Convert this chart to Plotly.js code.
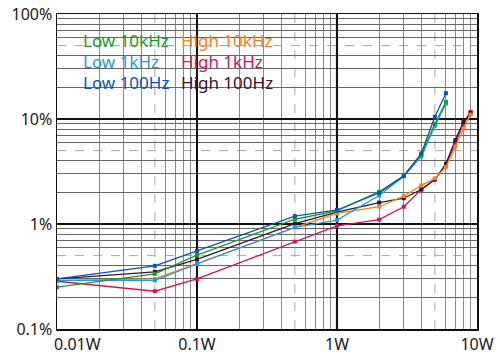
<!DOCTYPE html>
<html>
<head>
<meta charset="utf-8">
<script src="https://cdn.plot.ly/plotly-3.0.1.min.js"></script>
<style>html,body{margin:0;padding:0;background:#fff;}#chart{width:500px;height:357px;}</style>
</head>
<body>
<div id="chart"></div>
<script>
// Output power (W)
const wattsLow  = [0.01, 0.05, 0.1, 0.5, 1, 2, 3, 4, 5, 6];
const wattsHigh = [0.01, 0.05, 0.1, 0.5, 1, 2, 3, 4, 5, 6, 7, 8, 9];
// THD+N (%)
const low10k  = [0.25, 0.335, 0.505, 1.11, 1.33, 2.03, 2.87, 4.55, 9.0, 14.6];
const low1k   = [0.29, 0.29, 0.416, 0.93, 1.09, 1.87, 2.85, 4.4, 8.6, 14.0];
const low100  = [0.30, 0.40, 0.555, 1.19, 1.36, 1.98, 2.87, 4.7, 10.5, 17.6];
const high10k = [0.29, 0.30, 0.42, 0.93, 1.26, 1.46, 1.84, 2.33, 2.72, 3.5, 5.45, 8.1, 11.0];
const high1k  = [0.285, 0.229, 0.30, 0.68, 0.96, 1.10, 1.46, 2.13, 2.65, 3.6, 6.0, 9.0, 11.7];
const high100 = [0.30, 0.35, 0.46, 1.01, 1.30, 1.60, 1.76, 2.13, 2.65, 3.75, 6.3, 9.4, 11.4];

const seriesNames = ["Low 10kHz", "Low 1kHz", "Low 100Hz", "High 10kHz", "High 1kHz", "High 100Hz"];
const xTickVals = [0.01, 0.1, 1, 10];
const xTickText = ["0.01W", "0.1W", "1W", "10W"];
const yTickVals = [0.1, 1, 10, 100];
const yTickText = ["0.1%", "1%", "10%", "100%"];

const colors = ["#1e9a2c", "#1e9be0", "#0a56b2", "#f5821f", "#d3145a", "#3a1236"];

function tr(x, y, i) {
  return {x: x, y: y, name: seriesNames[i], type: "scatter", mode: "lines+markers",
    line: {color: colors[i], width: 1.3}, marker: {color: colors[i], size: 4, symbol: "square"}};
}
const data = [
  tr(wattsHigh, high1k, 4),
  tr(wattsHigh, high100, 5),
  tr(wattsHigh, high10k, 3),
  tr(wattsLow, low1k, 1),
  tr(wattsLow, low10k, 0),
  tr(wattsLow, low100, 2)
];

function minorVals(decades) {
  const v = [];
  decades.forEach(d => [2,3,4,6,7,8,9].forEach(m => v.push(m * d)));
  return v;
}

const shapes = [];
// dashed gridlines at the 5s
[0.05, 0.5, 5].forEach(v => {
  const f = (Math.log10(v) + 2) / 3;
  shapes.push({type: "line", xref: "x domain", yref: "y domain", x0: f, x1: f, y0: 0, y1: 1,
    line: {color: "#a8a8a8", width: 1, dash: "dash"}, layer: "below"});
});
[0.5, 5, 50].forEach(v => {
  const f = (Math.log10(v) + 1) / 3;
  shapes.push({type: "line", xref: "x domain", yref: "y domain", x0: 0, x1: 1, y0: f, y1: f,
    line: {color: "#a8a8a8", width: 1, dash: "dash"}, layer: "below"});
});
// 1W line drawn darker / brownish
shapes.push({type: "line", xref: "x domain", yref: "y domain", x0: 2/3, x1: 2/3, y0: 0, y1: 1,
  line: {color: "#6a5a5a", width: 2.2}, layer: "below"});

const annotations = [];
const legendPos = [[0, 0, 40], [1, 0, 61], [2, 0, 82], [3, 1, 40], [4, 1, 61], [5, 1, 82]];
legendPos.forEach(([i, col, py]) => {
  const px = col === 0 ? 81 : 179;
  annotations.push({text: seriesNames[i], xref: "paper", yref: "paper",
    x: (px - 57) / 420, y: (329 - py) / 315, xanchor: "left", yanchor: "middle",
    showarrow: false, font: {family: "Noto Sans, Open Sans, sans-serif", size: 17, color: colors[i]}});
});
// first x tick label, shifted right to clear the 0.1% label
annotations.push({text: xTickText[0], xref: "paper", yref: "paper", x: 0, y: 0,
  xanchor: "left", yanchor: "top", xshift: -5, yshift: -2, showarrow: false,
  font: {family: "Noto Sans, Open Sans, sans-serif", size: 16, color: "#1a1a1a"}});
const xTickShown = xTickText.map((t, i) => i === 0 ? "" : t);

const layout = {
  width: 500, height: 357,
  margin: {l: 57, r: 23, t: 14, b: 28},
  paper_bgcolor: "#ffffff", plot_bgcolor: "#ffffff",
  showlegend: false,
  font: {family: "Noto Sans, Open Sans, sans-serif", size: 16, color: "#1a1a1a"},
  xaxis: {type: "log", range: [-2, 1], tickmode: "array", tickvals: xTickVals, ticktext: xTickShown,
    showgrid: true, gridcolor: "#111111", gridwidth: 1.5,
    showline: true, linecolor: "#111111", linewidth: 1.5, mirror: true, ticks: "", zeroline: false,
    minor: {tickmode: "array", tickvals: minorVals([0.01, 0.1, 1]), showgrid: true, gridcolor: "#8c8c8c", gridwidth: 1, ticks: ""}},
  yaxis: {type: "log", range: [-1, 2], tickmode: "array", tickvals: yTickVals, ticktext: yTickText,
    showgrid: true, gridcolor: "#111111", gridwidth: 1.5,
    showline: true, linecolor: "#111111", linewidth: 1.5, mirror: true, ticks: "", zeroline: false,
    minor: {tickmode: "array", tickvals: minorVals([0.1, 1, 10]), showgrid: true, gridcolor: "#666666", gridwidth: 1, ticks: ""}},
  shapes: shapes,
  annotations: annotations
};

Plotly.newPlot("chart", data, layout, {displayModeBar: false, staticPlot: true});
</script>
</body>
</html>
